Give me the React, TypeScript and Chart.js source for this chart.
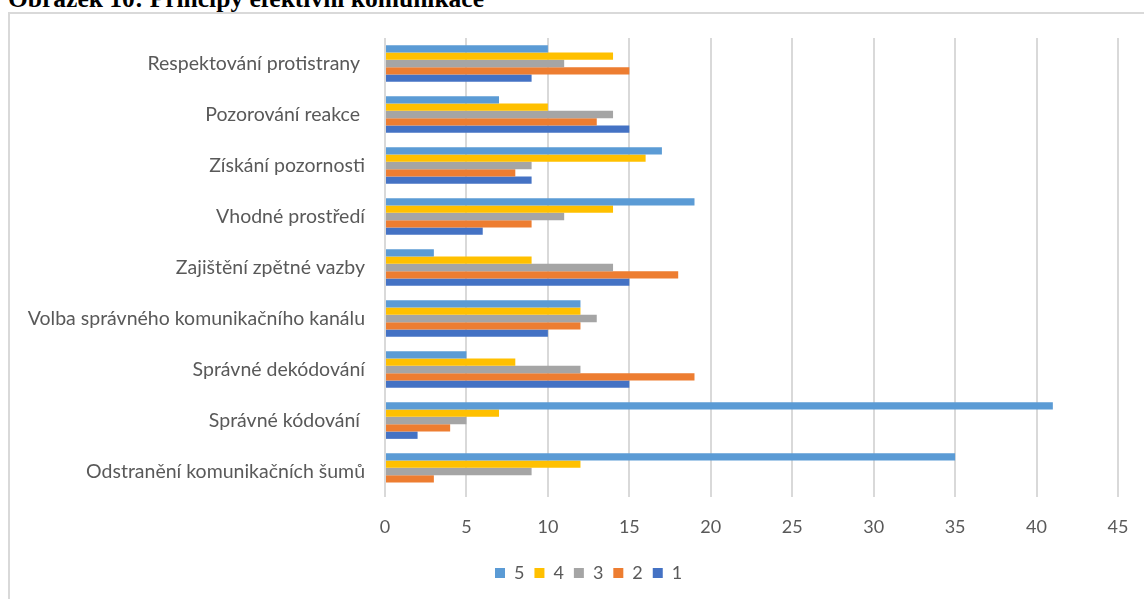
import React, { useEffect, useRef } from 'react';
import { Chart, registerables } from 'chart.js';

Chart.register(...registerables);

const categories = [
  'Respektování protistrany ',
  'Pozorování reakce ',
  'Získání pozornosti',
  'Vhodné prostředí',
  'Zajištění zpětné vazby',
  'Volba správného komunikačního kanálu',
  'Správné dekódování',
  'Správné kódování ',
  'Odstranění komunikačních šumů',
];

const seriesNames = ['5', '4', '3', '2', '1'];
const values5 = [10, 7, 17, 19, 3, 12, 5, 41, 35];
const values4 = [14, 10, 16, 14, 9, 12, 8, 7, 12];
const values3 = [11, 14, 9, 11, 14, 13, 12, 5, 9];
const values2 = [15, 13, 8, 9, 18, 12, 19, 4, 3];
const values1 = [9, 15, 9, 6, 15, 10, 15, 2, 0];
const seriesColors = ['#5B9BD5', '#FFC000', '#A5A5A5', '#ED7D31', '#4472C4'];

const axisMin = 0;
const axisMax = 45;
const axisStep = 5;

const titleText = 'Obrázek 10: Principy efektivní komunikace';

const FONT = 'Lato, "Open Sans", sans-serif';

export default function App() {
  const canvasRef = useRef<HTMLCanvasElement | null>(null);

  useEffect(() => {
    const canvas = canvasRef.current;
    if (!canvas) return;
    const seriesValues = [values5, values4, values3, values2, values1];

    const legendShift = {
      id: 'legendShift',
      afterLayout(chart: any) {
        const l = chart.legend;
        if (!l || !l.lineWidths) return;
        const pad = l.options.labels.padding;
        const desiredStart = 485;
        const currentStart = (l.left + pad + l.right - l.lineWidths[0]) / 2;
        const shift = desiredStart - currentStart;
        l.left += shift;
        l.right += shift;
      },
    };

    const chart = new Chart(canvas, {
      type: 'bar',
      data: {
        labels: categories,
        datasets: seriesNames.map((name, i) => ({
          label: name,
          data: seriesValues[i],
          backgroundColor: seriesColors[i],
          borderWidth: 0,
          categoryPercentage: 0.72,
          barPercentage: 1.0,
        })),
      },
      options: {
        indexAxis: 'y',
        animation: false,
        responsive: false,
        devicePixelRatio: 1,
        layout: { padding: { top: 24, right: 26, bottom: 7, left: 0 } },
        scales: {
          x: {
            min: axisMin,
            max: axisMax,
            ticks: {
              stepSize: axisStep,
              color: '#595959',
              font: { family: FONT, size: 18 },
              padding: 19,
            },
            grid: { color: '#d9d9d9', lineWidth: 2, drawTicks: false },
            border: { display: false },
            afterFit(scale: any) {
              scale.height = 57;
              scale.paddingLeft = 0;
              scale.paddingRight = 0;
            },
          },
          y: {
            ticks: {
              color: '#595959',
              font: { family: FONT, size: 19.5 },
              padding: 20,
            },
            grid: { display: false, drawTicks: false },
            border: { display: false },
            afterFit(scale: any) {
              scale.width = 375;
              scale.paddingTop = 0;
              scale.paddingBottom = 0;
            },
          },
        },
        plugins: {
          legend: {
            position: 'bottom',
            labels: {
              boxWidth: 10,
              boxHeight: 10,
              padding: 10,
              color: '#595959',
              font: { family: FONT, size: 18 },
            },
          },
          tooltip: { enabled: false },
          title: { display: false },
        },
      },
      plugins: [legendShift],
    });
    return () => chart.destroy();
  }, []);

  return (
    <div
      style={{
        position: 'fixed',
        left: 0,
        top: 0,
        width: 1144,
        height: 599,
        overflow: 'hidden',
        background: '#ffffff',
      }}
    >
      <div
        style={{
          position: 'absolute',
          left: 8,
          top: -14,
          font: 'bold 25.5px "Liberation Serif", "Times New Roman", serif',
          lineHeight: '25.5px',
          whiteSpace: 'nowrap',
          color: '#000',
        }}
      >
        {titleText}
      </div>
      <div
        style={{
          position: 'absolute',
          left: 8,
          top: 12,
          width: 1136,
          height: 587,
          boxSizing: 'border-box',
          borderLeft: '2px solid #d9d9d9',
          borderTop: '2px solid #d9d9d9',
        }}
      />
      <canvas
        ref={canvasRef}
        width={1134}
        height={585}
        style={{ position: 'absolute', left: 10, top: 14, width: 1134, height: 585 }}
      />
    </div>
  );
}
